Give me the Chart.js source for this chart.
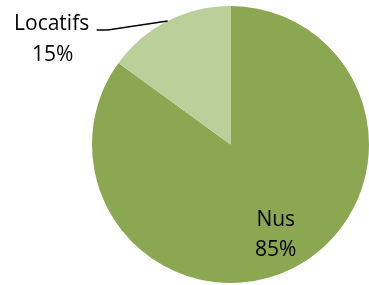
<!DOCTYPE html>
<html>
<head>
<meta charset="utf-8">
<script src="https://cdn.jsdelivr.net/npm/chart.js@4"></script>
<style>
  html, body { margin: 0; padding: 0; background: #fff; }
  #wrap { width: 369px; height: 285px; }
</style>
</head>
<body>
<div id="wrap"><canvas id="chart" width="369" height="285"></canvas></div>
<script>
// chart data
const categories = ["Nus", "Locatifs"];
const shares = [85, 15];
const sliceColors = ["#8BA751", "#BACF99"];

const FONT = "'Open Sans', 'Liberation Sans', sans-serif";

// draws the slice labels (inside for big slice, outside with leader line for the small one)
const sliceLabels = {
  id: "sliceLabels",
  afterDatasetsDraw(chart) {
    const ctx = chart.ctx;
    const arcs = chart.getDatasetMeta(0).data;
    ctx.save();
    ctx.fillStyle = "#000";
    ctx.font = "21px " + FONT;
    ctx.textAlign = "center";
    ctx.textBaseline = "alphabetic";
    arcs.forEach((arc, i) => {
      const p = arc.getProps(["x", "y", "startAngle", "endAngle", "outerRadius"], true);
      const mid = (p.startAngle + p.endAngle) / 2;
      const pct = shares[i] + "%";
      if (shares[i] > 50) {
        const r = p.outerRadius * 0.72;
        const lx = p.x + Math.cos(mid) * r;
        const ly = p.y + Math.sin(mid) * r;
        ctx.fillText(categories[i], lx, ly - 7);
        ctx.fillText(pct, lx, ly + 23);
      } else {
        const ex = p.x + Math.cos(mid) * p.outerRadius;
        const ey = p.y + Math.sin(mid) * p.outerRadius;
        const bx = ex - 60, by = ey + 9;
        ctx.strokeStyle = "#000";
        ctx.lineWidth = 1.5;
        ctx.beginPath();
        ctx.moveTo(ex, ey);
        ctx.lineTo(bx, by);
        ctx.lineTo(bx - 11, by);
        ctx.stroke();
        ctx.fillText(categories[i], ex - 116, ey + 9);
        ctx.fillText(pct, ex - 115, ey + 40);
      }
    });
    ctx.restore();
  }
};

new Chart(document.getElementById("chart"), {
  type: "pie",
  data: {
    labels: categories,
    datasets: [{
      data: shares,
      backgroundColor: sliceColors,
      borderWidth: 0
    }]
  },
  options: {
    responsive: false,
    animation: false,
    layout: { padding: { left: 92, right: 0, top: 6, bottom: 2 } },
    plugins: {
      legend: { display: false },
      tooltip: { enabled: false }
    }
  },
  plugins: [sliceLabels]
});
</script>
</body>
</html>
